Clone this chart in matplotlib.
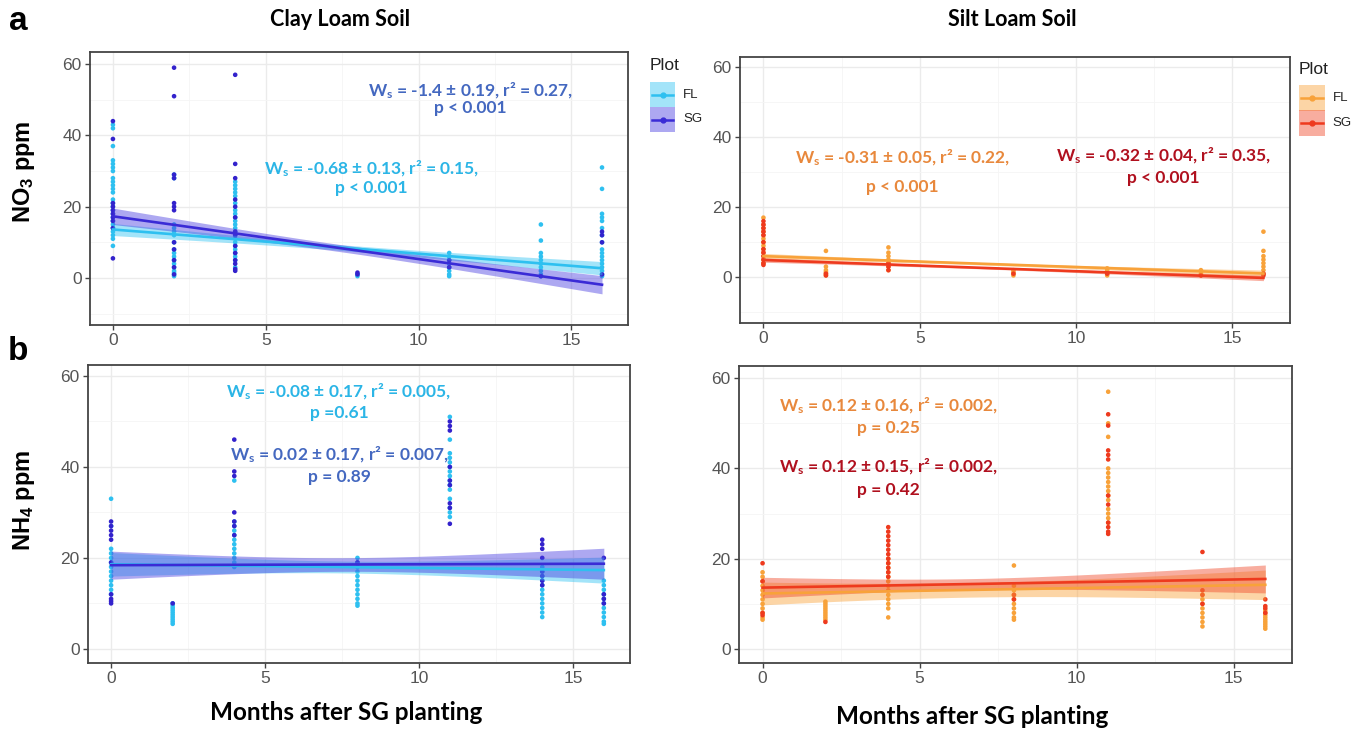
import matplotlib
matplotlib.use("Agg")
import matplotlib.pyplot as plt
from matplotlib import font_manager
from matplotlib.patches import Rectangle
from matplotlib.lines import Line2D
import numpy as np

# ---------------------------------------------------------------- data
months = [0, 2, 4, 8, 11, 14, 16]

# NO3 (ppm), clay loam
clay_no3_fl = [
    [9, 11, 12, 13, 14, 15, 16, 17, 18, 19, 20, 21, 22, 24, 25, 26, 27, 28, 30, 31, 32, 33, 37, 42, 43],
    [0.5, 1, 1.5, 2, 3, 4, 5, 6, 7, 8, 10, 12, 13, 14, 15, 28, 29],
    [3, 5, 6, 7, 8, 9, 10, 11, 12, 13, 14, 15, 16, 17, 18, 19, 21, 23, 24, 25, 26, 27],
    [0.5, 1],
    [0.5, 1, 2, 3, 4, 5, 6, 7],
    [0.5, 1, 2, 3, 4, 5, 6, 7, 10.5, 15],
    [0.5, 1, 2, 3, 4, 5, 6, 7, 8, 10, 12, 14, 16, 17, 18, 25, 31],
]
clay_no3_sg = [
    [5.5, 14, 16, 17, 18, 19, 20, 21, 39, 44],
    [1, 3, 5, 8, 10, 19, 20, 21, 28, 29, 51, 59],
    [2, 2.5, 4, 5, 7, 9, 12, 13, 17, 20, 22, 28, 32, 57],
    [1, 1.5],
    [3, 5],
    [0.5],
    [1, 10, 12, 13],
]

# NO3 (ppm), silt loam
silt_no3_fl = [
    [4, 5, 6, 7, 8, 9, 10, 11, 12, 13, 14, 15, 17],
    [0.5, 1, 1.5, 2, 3, 7.5],
    [2, 3, 4, 5, 6, 7, 8.5],
    [0.5, 1, 1.5, 2],
    [0.5, 1, 2, 2.5],
    [0.5, 1, 2],
    [1, 2, 3, 4, 5, 6, 7.5, 13],
]
silt_no3_sg = [
    [3.5, 4, 5, 6, 7, 8, 10, 12, 13, 14, 15, 16],
    [0.5, 1],
    [2, 3, 4],
    [1],
    [1],
    [0.5],
    [0.5, 1],
]

# NH4 (ppm), clay loam
clay_nh4_fl = [
    [12, 13, 14, 15, 16, 17, 18, 19, 20, 21, 22, 27, 33],
    [5.5, 6, 6.5, 7, 7.5, 8, 8.5, 9, 9.5, 10],
    [18, 19, 20, 21, 22, 23, 24, 25, 26, 27, 28, 37],
    [9.5, 10, 11, 12, 13, 14, 15, 16, 17, 18, 19, 20],
    [29, 30, 31, 33, 35, 36, 37, 38, 39, 40, 41, 42, 43, 46, 51],
    [7, 8, 9, 10, 11, 12, 13, 14, 15, 16, 17, 18],
    [5.5, 6, 7, 8, 9, 10, 11, 12, 13, 14, 15],
]
clay_nh4_sg = [
    [10, 10.5, 11, 12, 19, 24, 25, 26, 27, 28],
    [10],
    [25, 27, 28, 30, 38, 39, 46],
    [19],
    [27.5, 31, 32, 36, 37, 40, 48, 49, 50],
    [14, 15, 16, 17, 20, 22, 23, 24],
    [10, 11, 12, 20],
]

# NH4 (ppm), silt loam
silt_nh4_fl = [
    [6.5, 7, 8, 9, 10, 11, 12, 13, 14, 15, 16, 17],
    [6.5, 7, 7.5, 8, 8.5, 9, 9.5, 10, 10.5],
    [7, 9, 10, 11, 12, 13, 14, 15, 16, 17, 18, 19, 20],
    [6.5, 7, 8, 9, 10, 11, 12, 13, 14, 18.5],
    [28, 29, 30, 31, 33, 34, 35, 36, 37, 38, 39, 40, 47, 50, 57],
    [5, 6, 7, 8, 9, 10, 11, 12],
    [4.5, 5, 5.5, 6, 6.5, 7, 7.5, 8, 8.5],
]
silt_nh4_sg = [
    [7.5, 8, 15, 19],
    [6],
    [16, 17, 18, 19, 20, 21, 22, 23, 24, 25, 26, 27],
    [11, 12],
    [25.5, 26, 27, 28, 32, 34, 42, 43, 44, 49.5, 52],
    [10, 12, 13, 21.5],
    [8, 9, 9.5, 11],
]

# fitted lines: (intercept, slope) per panel, FL then SG
fit_clay_no3 = [(13.6, -0.68), (17.3, -1.2)]
fit_silt_no3 = [(6.0, -0.31), (4.9, -0.32)]
fit_clay_nh4 = [(18.6, -0.08), (18.4, 0.02)]
fit_silt_nh4 = [(12.3, 0.12), (13.6, 0.12)]

# confidence band: (x of narrowest point, min half width, growth) per series
band_clay_no3 = [(7.5, 0.8, 0.20), (7.5, 1.0, 0.277)]
band_silt_no3 = [(7.0, 0.35, 0.10), (7.0, 0.3, 0.08)]
band_clay_nh4 = [(7.5, 1.3, 0.30), (7.5, 1.5, 0.36)]
band_silt_nh4 = [(6.5, 1.6, 0.30), (6.5, 1.2, 0.30)]

# statistics shown on the panels
stats_clay_no3 = [("-0.68 ± 0.13", "0.15", "p < 0.001"), ("-1.4 ± 0.19", "0.27", "p < 0.001")]
stats_silt_no3 = [("-0.31 ± 0.05", "0.22", "p < 0.001"), ("-0.32 ± 0.04", "0.35", "p < 0.001")]
stats_clay_nh4 = [("-0.08 ± 0.17", "0.005", "p =0.61"), ("0.02 ± 0.17", "0.007", "p = 0.89")]
stats_silt_nh4 = [("0.12 ± 0.16", "0.002", "p = 0.25"), ("0.12 ± 0.15", "0.002", "p = 0.42")]

plot_levels = ["FL", "SG"]

# ---------------------------------------------------------------- style
W, H = 1352, 730


def have(name):
    try:
        font_manager.findfont(name, fallback_to_default=False)
        return True
    except Exception:
        return False


TEXT_FONT = "Lato" if have("Lato") else "DejaVu Sans"
TICK_FONT = "Liberation Sans Narrow" if have("Liberation Sans Narrow") else "Liberation Sans"
PANEL_FONT = "Liberation Sans"

plt.rcParams["mathtext.fontset"] = "custom"
plt.rcParams["mathtext.rm"] = TEXT_FONT + ":bold"
plt.rcParams["mathtext.bf"] = PANEL_FONT + ":bold"
plt.rcParams["mathtext.it"] = TEXT_FONT + ":bold"

clay_pts = ["#2EC0F0", "#3322CC"]
clay_line = ["#2EC0F0", "#3A2BD6"]
clay_band = ["#33C5F3", "#4A3FE0"]
silt_pts = ["#F8A23A", "#EE3A1E"]
silt_line = ["#F8A23A", "#EE3A1E"]
silt_band = ["#F9A23A", "#F04A2A"]

clay_text = ["#2BB5E6", "#4468C0"]
silt_text = ["#E8883C", "#B0101E"]

fig = plt.figure(figsize=(W / 100, H / 100), dpi=100)


def px_axes(left, top, right, bottom):
    return fig.add_axes([left / W, 1 - bottom / H, (right - left) / W, (bottom - top) / H])


def style_axes(ax, ylim, yticks):
    ax.set_xlim(-0.75, 16.85)
    ax.set_ylim(*ylim)
    ax.set_xticks([0, 5, 10, 15])
    ax.set_yticks(yticks)
    ax.set_xticks([2.5, 7.5, 12.5], minor=True)
    ax.set_yticks([t + 10 for t in [-20] + list(yticks) if ylim[0] < t + 10 < ylim[1]], minor=True)
    ax.grid(True, which="major", color="#EBEBEB", lw=1.0, zorder=0)
    ax.grid(True, which="minor", color="#F5F5F5", lw=0.6, zorder=0)
    ax.set_axisbelow(True)
    for s in ax.spines.values():
        s.set_color("#444444")
        s.set_linewidth(1.3)
    ax.tick_params(which="major", length=3.5, width=1.0, color="#444444",
                   labelsize=12.5, labelcolor="#555555", pad=2.5)
    ax.tick_params(which="minor", length=0)
    for lab in ax.get_xticklabels() + ax.get_yticklabels():
        lab.set_fontfamily(TICK_FONT)


def draw_panel(ax, fl, sg, fits, bands, pts, lines, fills):
    for series, col in zip([fl, sg], pts):
        xs = np.concatenate([[m] * len(v) for m, v in zip(months, series)])
        ys = np.concatenate([v for v in series])
        ax.scatter(xs, ys, s=11, color=col, edgecolors="none", zorder=2)
    xx = np.linspace(0, 16, 200)
    for (a, b), (xc, hmin, k), lc, fc in zip(fits, bands, lines, fills):
        yy = a + b * xx
        hw = np.sqrt(hmin ** 2 + (k * (xx - xc)) ** 2)
        ax.fill_between(xx, yy - hw, yy + hw, color=fc, alpha=0.45, lw=0, zorder=3)
        ax.plot(xx, yy, color=lc, lw=1.9, zorder=4)


STAT_SIZE = 12.5


def stat_text(ax, x, y, stats, color, dy):
    slope, r2, p = stats
    line1 = r"W$_{\mathrm{s}}$ = " + slope + ", r² = " + r2 + ","
    ax.text(x, y, line1, ha="center", va="center", color=color, fontsize=STAT_SIZE,
            fontfamily=TEXT_FONT, fontweight="bold", zorder=6)
    ax.text(x, y - dy, p, ha="center", va="center", color=color, fontsize=STAT_SIZE,
            fontfamily=TEXT_FONT, fontweight="bold", zorder=6)


# panel a, clay loam
ax1 = px_axes(90, 52, 628, 325)
style_axes(ax1, (-13.2, 63.4), [0, 20, 40, 60])
draw_panel(ax1, clay_no3_fl, clay_no3_sg, fit_clay_no3, band_clay_no3, clay_pts, clay_line, clay_band)
stat_text(ax1, 11.7, 52.6, stats_clay_no3[1], clay_text[1], 5.0)
stat_text(ax1, 8.45, 30.6, stats_clay_no3[0], clay_text[0], 5.3)

# panel a, silt loam
ax2 = px_axes(740, 57, 1290, 323)
style_axes(ax2, (-13.1, 62.9), [0, 20, 40, 60])
draw_panel(ax2, silt_no3_fl, silt_no3_sg, fit_silt_no3, band_silt_no3, silt_pts, silt_line, silt_band)
stat_text(ax2, 4.45, 34.0, stats_silt_no3[0], silt_text[0], 8.3)
stat_text(ax2, 12.8, 34.6, stats_silt_no3[1], silt_text[1], 6.3)

# panel b, clay loam
ax3 = px_axes(88, 365, 630, 663)
style_axes(ax3, (-3.1, 62.4), [0, 20, 40, 60])
draw_panel(ax3, clay_nh4_fl, clay_nh4_sg, fit_clay_nh4, band_clay_nh4, clay_pts, clay_line, clay_band)
stat_text(ax3, 7.4, 56.5, stats_clay_nh4[0], clay_text[0], 4.7)
stat_text(ax3, 7.4, 42.6, stats_clay_nh4[1], clay_text[1], 4.8)

# panel b, silt loam
ax4 = px_axes(739, 366, 1292, 663)
style_axes(ax4, (-3.1, 62.7), [0, 20, 40, 60])
draw_panel(ax4, silt_nh4_fl, silt_nh4_sg, fit_silt_nh4, band_silt_nh4, silt_pts, silt_line, silt_band)
stat_text(ax4, 4.0, 53.8, stats_silt_nh4[0], silt_text[0], 4.9)
stat_text(ax4, 4.0, 40.3, stats_silt_nh4[1], silt_text[1], 5.1)


# ---------------------------------------------------------------- figure text
def ftext(x, y, s, **kw):
    fig.text(x / W, 1 - y / H, s, **kw)


ftext(340, 20, "Clay Loam Soil", ha="center", va="center", fontsize=15.5,
      fontfamily=TEXT_FONT, fontweight="bold")
ftext(1012, 20, "Silt Loam Soil", ha="center", va="center", fontsize=15.5,
      fontfamily=TEXT_FONT, fontweight="bold")
ftext(18, 22, "a", ha="center", va="center", fontsize=24, fontfamily=PANEL_FONT, fontweight="bold")
ftext(18, 352, "b", ha="center", va="center", fontsize=24, fontfamily=PANEL_FONT, fontweight="bold")
ftext(24, 172, r"NO$_\mathbf{3}$ ppm", ha="center", va="center", rotation=90, fontsize=17,
      fontfamily=PANEL_FONT, fontweight="bold")
ftext(24, 500, r"NH$_\mathbf{4}$ ppm", ha="center", va="center", rotation=90, fontsize=17,
      fontfamily=PANEL_FONT, fontweight="bold")
ftext(346, 713, "Months after SG planting", ha="center", va="center", fontsize=17.5,
      fontfamily=TEXT_FONT, fontweight="bold")
ftext(972, 716, "Months after SG planting", ha="center", va="center", fontsize=17.5,
      fontfamily=TEXT_FONT, fontweight="bold")


# ---------------------------------------------------------------- legends
def legend(x0, y_title, y0, size, labels, lines, fills):
    ftext(x0, y_title, "Plot", ha="left", va="center", fontsize=12.5, fontfamily=TICK_FONT,
          color="#222222")
    for i, (lab, lc, fc) in enumerate(zip(labels, lines, fills)):
        top = y0 + i * size
        fig.add_artist(Rectangle((x0 / W, 1 - (top + size) / H), size / W, size / H,
                                 transform=fig.transFigure, facecolor=fc, alpha=0.45, lw=0))
        yc = 1 - (top + size / 2) / H
        fig.add_artist(Line2D([(x0 + 2) / W, (x0 + size - 2) / W], [yc, yc],
                              transform=fig.transFigure, color=lc, lw=1.8))
        fig.add_artist(Line2D([(x0 + size / 2) / W], [yc], transform=fig.transFigure,
                              color=lc, marker="o", markersize=3.5, lw=0))
        ftext(x0 + size + 8, top + size / 2, lab, ha="left", va="center", fontsize=9.5,
              fontfamily=TICK_FONT, color="#222222")


legend(650, 66, 82, 25, plot_levels, clay_line, clay_band)
legend(1299, 69, 85, 25.5, plot_levels, silt_line, silt_band)

fig.savefig("out.png", dpi=100)
